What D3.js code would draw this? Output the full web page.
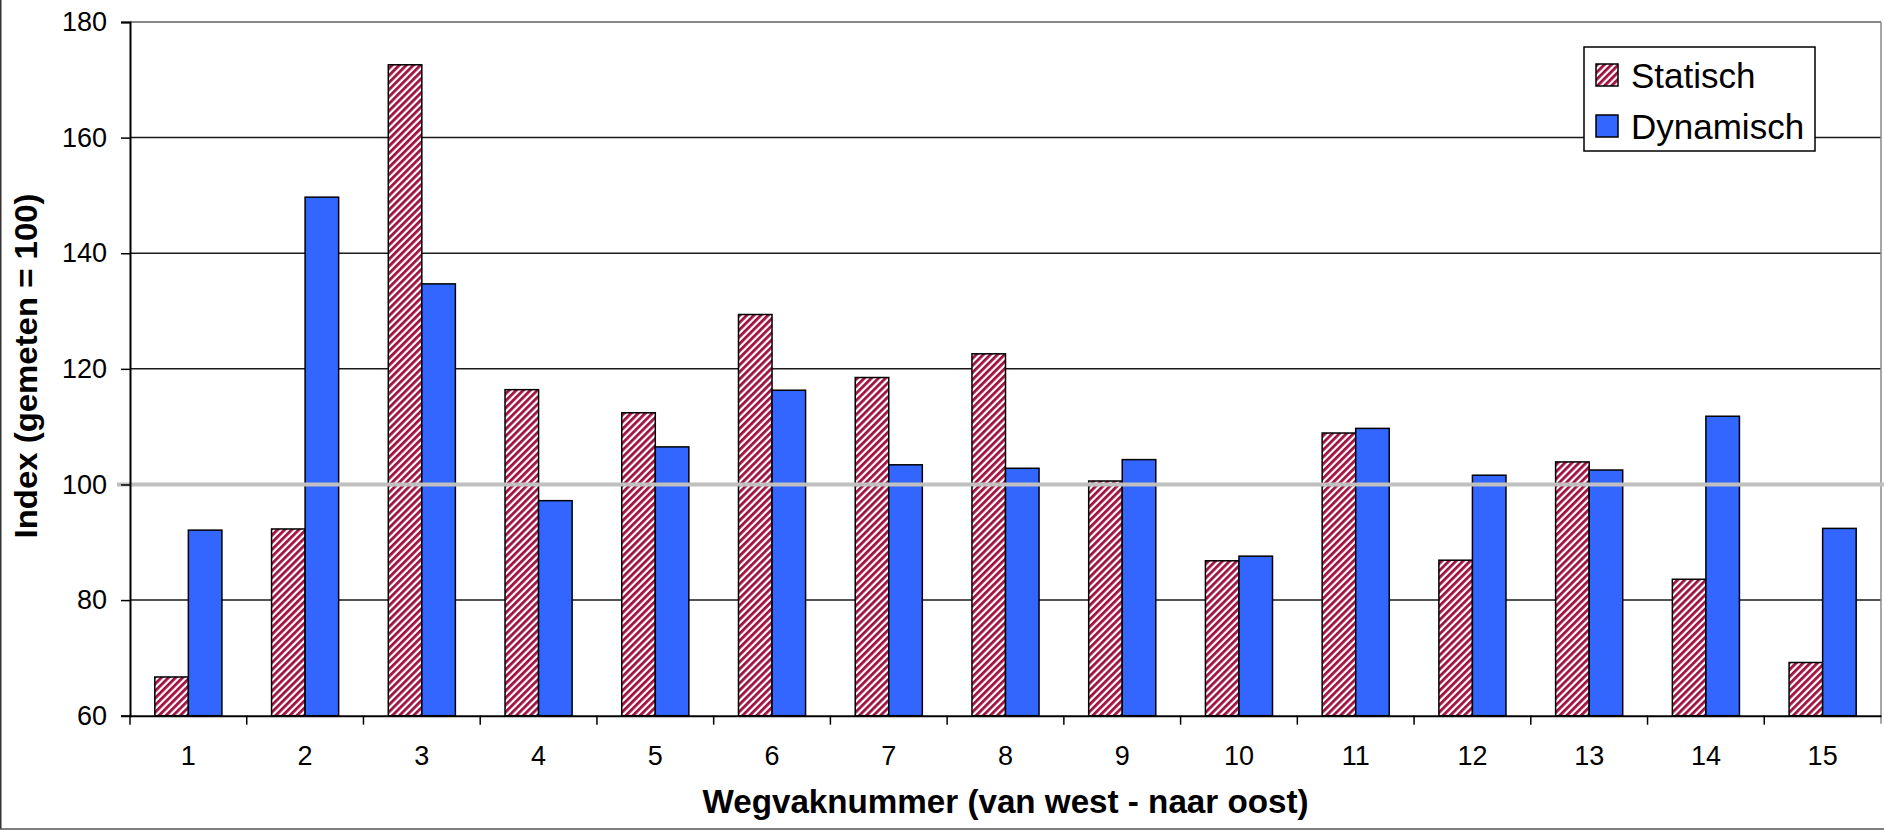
<!DOCTYPE html>
<html>
<head>
<meta charset="utf-8">
<script src="https://cdn.jsdelivr.net/npm/d3@7"></script>
<style>
  body { margin: 0; background: #fff; }
  text { font-family: Arial, "Liberation Sans", sans-serif; }
</style>
</head>
<body>
<div id="chart"></div>
<script>

////////////////////////////////////////////////////////////
// Data
////////////////////////////////////////////////////////////

const categories = ['1', '2', '3', '4', '5', '6', '7', '8', '9', '10', '11', '12', '13', '14', '15']
const series_names = ['Statisch', 'Dynamisch']
const statisch = [66.7, 92.3, 172.6, 116.4, 112.4, 129.4, 118.5, 122.6, 100.6, 86.8, 108.9, 86.9, 103.9, 83.6, 69.2]
const dynamisch = [92.1, 149.7, 134.7, 97.2, 106.5, 116.3, 103.4, 102.8, 104.3, 87.6, 109.7, 101.6, 102.5, 111.8, 92.4]
const y_ticks = [60, 80, 100, 120, 140, 160, 180]
const reference_value = 100

const x_title = 'Wegvaknummer (van west - naar oost)'
const y_title = 'Index (gemeten = 100)'

////////////////////////////////////////////////////////////
// Layout
////////////////////////////////////////////////////////////

const W = 1884
const H = 830
const plot = { left: 130, right: 1881, top: 22, bottom: 715.7 }

const svg = d3.select('#chart')
  .append('svg')
  .attr('width', W)
  .attr('height', H)

// Hatch pattern for "Statisch"
const defs = svg.append('defs')
const hatch = defs.append('pattern')
  .attr('id', 'hatch')
  .attr('patternUnits', 'userSpaceOnUse')
  .attr('width', 5)
  .attr('height', 5)
  .attr('patternTransform', 'rotate(45)')
hatch.append('rect')
  .attr('width', 5).attr('height', 5)
  .attr('fill', '#ffffff')
hatch.append('rect')
  .attr('width', 2.8).attr('height', 5)
  .attr('fill', '#a0103f')

const fills = { 'Statisch': 'url(#hatch)', 'Dynamisch': '#3366ff' }

// Scales
const x0 = d3.scaleBand()
  .domain(categories)
  .range([plot.left, plot.right])
  .padding(0)

const x1 = d3.scaleBand()
  .domain(series_names)
  .range([0, x0.bandwidth()])
  .paddingInner(0)
  .paddingOuter(0.74)

const y = d3.scaleLinear()
  .domain([60, 180])
  .range([plot.bottom, plot.top])

////////////////////////////////////////////////////////////
// Outer frame
////////////////////////////////////////////////////////////

svg.append('line')
  .attr('x1', 0.75).attr('x2', 0.75)
  .attr('y1', 0).attr('y2', 829)
  .attr('stroke', '#333').attr('stroke-width', 1.5)

svg.append('line')
  .attr('x1', 0).attr('x2', W)
  .attr('y1', 829).attr('y2', 829)
  .attr('stroke', '#555').attr('stroke-width', 1.5)

////////////////////////////////////////////////////////////
// Gridlines
////////////////////////////////////////////////////////////

svg.append('g')
  .selectAll('line')
  .data(y_ticks.filter(d => d != 60 && d != 180 && d != reference_value))
  .enter()
  .append('line')
    .attr('x1', plot.left)
    .attr('x2', plot.right)
    .attr('y1', d => y(d))
    .attr('y2', d => y(d))
    .attr('stroke', '#1a1a1a')
    .attr('stroke-width', 1.5)

// Top and right border of plot area
svg.append('line')
  .attr('x1', plot.left).attr('x2', plot.right)
  .attr('y1', y(180)).attr('y2', y(180))
  .attr('stroke', '#888').attr('stroke-width', 2)

svg.append('line')
  .attr('x1', plot.right).attr('x2', plot.right)
  .attr('y1', y(180)).attr('y2', plot.bottom + 8)
  .attr('stroke', '#888').attr('stroke-width', 1.5)

////////////////////////////////////////////////////////////
// Bars
////////////////////////////////////////////////////////////

const rows = categories.map((c, i) => ({
  cat: c,
  values: [
    { key: 'Statisch', value: statisch[i] },
    { key: 'Dynamisch', value: dynamisch[i] }
  ]
}))

svg.append('g')
  .selectAll('g')
  .data(rows)
  .enter()
  .append('g')
    .attr('transform', d => `translate(${x0(d.cat)},0)`)
  .selectAll('rect')
  .data(d => d.values)
  .enter()
  .append('rect')
    .attr('x', d => x1(d.key))
    .attr('y', d => y(d.value))
    .attr('width', x1.bandwidth())
    .attr('height', d => y(60) - y(d.value))
    .attr('fill', d => fills[d.key])
    .attr('stroke', '#000')
    .attr('stroke-width', 1.5)

////////////////////////////////////////////////////////////
// Reference line (gemeten = 100)
////////////////////////////////////////////////////////////

svg.append('line')
  .attr('x1', plot.left - 13)
  .attr('x2', W)
  .attr('y1', y(reference_value))
  .attr('y2', y(reference_value))
  .attr('stroke', '#c0c0c0')
  .attr('stroke-width', 4)

////////////////////////////////////////////////////////////
// Axes
////////////////////////////////////////////////////////////

const y_axis = d3.axisLeft(y)
  .tickValues(y_ticks)
  .tickSize(9)
  .tickPadding(14)

const y_g = svg.append('g')
  .attr('transform', `translate(${plot.left},0)`)
  .call(y_axis)
y_g.select('.domain')
  .attr('stroke', '#000').attr('stroke-width', 2)
y_g.selectAll('.tick line')
  .attr('stroke', '#000').attr('stroke-width', 1.5)
y_g.selectAll('.tick text')
  .attr('font-size', 27)
  .attr('fill', '#000')
  .attr('font-family', 'Arial, "Liberation Sans", sans-serif')

const x_axis = d3.axisBottom(x0)
  .tickSize(0)
  .tickPadding(40)

const x_g = svg.append('g')
  .attr('transform', `translate(0,${plot.bottom})`)
  .call(x_axis)
x_g.select('.domain')
  .attr('stroke', '#000').attr('stroke-width', 2)
x_g.selectAll('.tick text')
  .attr('font-size', 27)
  .attr('fill', '#000')
  .attr('dy', 0)
  .attr('y', 49.5)
  .attr('font-family', 'Arial, "Liberation Sans", sans-serif')

// Tick marks between categories
x_g.append('g')
  .selectAll('line')
  .data(categories)
  .enter()
  .append('line')
    .attr('x1', d => x0(d))
    .attr('x2', d => x0(d))
    .attr('y1', 0)
    .attr('y2', 9)
    .attr('stroke', '#000')
    .attr('stroke-width', 1.5)

////////////////////////////////////////////////////////////
// Axis titles
////////////////////////////////////////////////////////////

svg.append('text')
  .attr('x', (plot.left + plot.right) / 2)
  .attr('y', 813)
  .attr('text-anchor', 'middle')
  .attr('font-size', 33)
  .attr('font-weight', 'bold')
  .attr('textLength', 606)
  .attr('lengthAdjust', 'spacingAndGlyphs')
  .text(x_title)

svg.append('text')
  .attr('transform', `translate(37,${366}) rotate(-90)`)
  .attr('text-anchor', 'middle')
  .attr('font-size', 32)
  .attr('font-weight', 'bold')
  .attr('textLength', 345)
  .attr('lengthAdjust', 'spacingAndGlyphs')
  .text(y_title)

////////////////////////////////////////////////////////////
// Legend
////////////////////////////////////////////////////////////

const legend = svg.append('g')
  .attr('transform', 'translate(1584,47)')

legend.append('rect')
  .attr('width', 231)
  .attr('height', 104)
  .attr('fill', '#fff')
  .attr('stroke', '#000')
  .attr('stroke-width', 1.5)

const legend_items = legend.selectAll('g.item')
  .data(series_names)
  .enter()
  .append('g')
    .attr('class', 'item')
    .attr('transform', (d, i) => `translate(12,${17 + i * 51})`)

legend_items.append('rect')
  .attr('width', 22)
  .attr('height', 22)
  .attr('fill', d => fills[d])
  .attr('stroke', '#000')
  .attr('stroke-width', 1.5)

legend_items.append('text')
  .attr('x', 35)
  .attr('y', 24)
  .attr('font-size', 35)
  .attr('fill', '#000')
  .text(d => d)

</script>
</body>
</html>
